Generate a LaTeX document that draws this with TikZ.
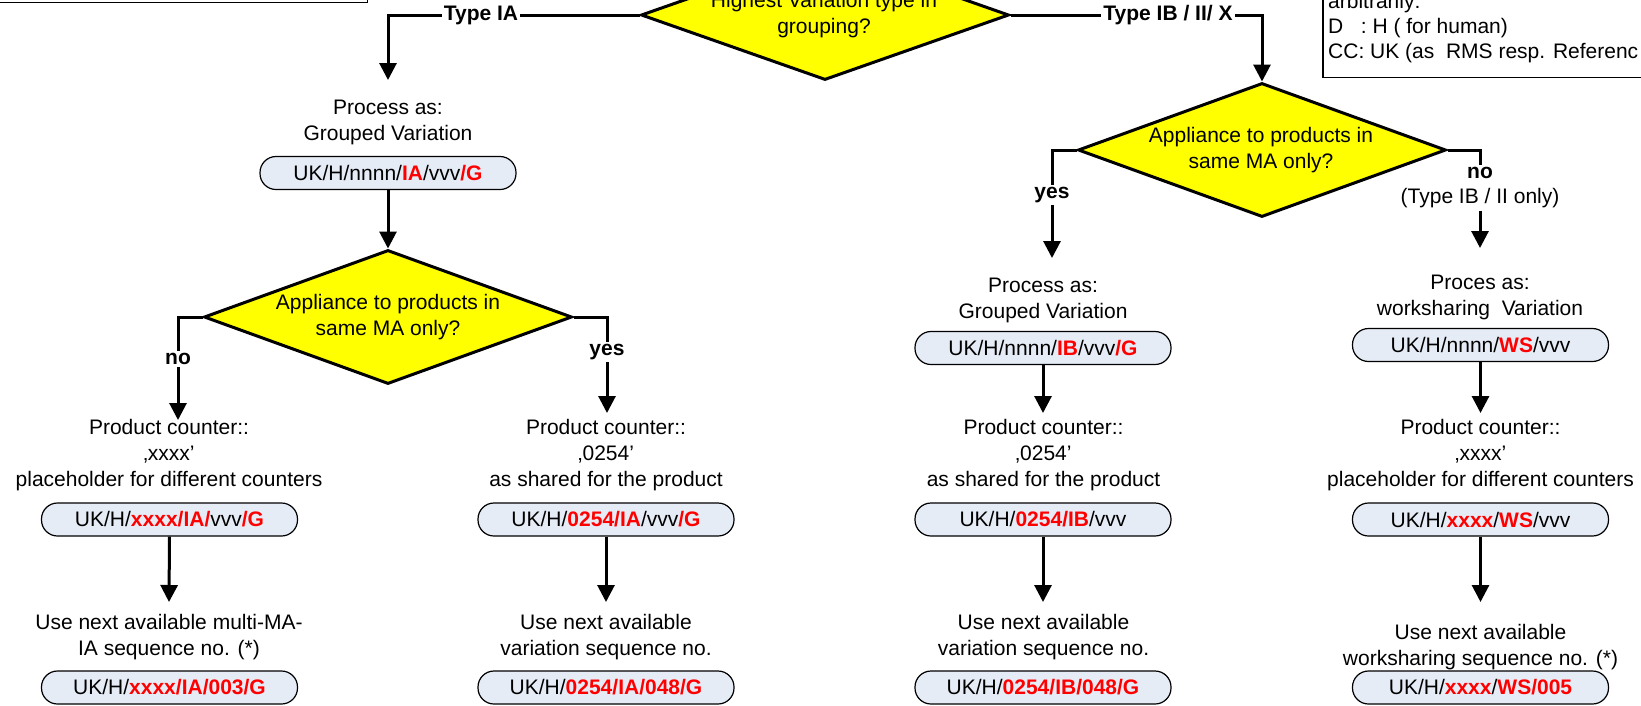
\documentclass[tikz,border=0pt]{standalone}
\usepackage{fontspec}
\setmainfont{Liberation Sans}
\usetikzlibrary{arrows.meta,shapes.geometric}
\definecolor{ovalfill}{RGB}{230,236,246}
\definecolor{dyellow}{RGB}{255,255,0}
\definecolor{rred}{RGB}{255,0,0}
\newcommand{\rb}[1]{\textcolor{rred}{\bfseries #1}}
\begin{document}
\begin{tikzpicture}[x=1pt,y=-1pt,
  txt/.style={font=\fontsize{21}{26}\selectfont, align=center, inner sep=0pt},
  lbl/.style={font=\fontsize{21}{26}\selectfont\bfseries, fill=white, inner sep=2pt, align=center},
  oval/.style={draw=black, line width=1.2pt, fill=ovalfill, rounded corners=16pt, minimum width=256pt, minimum height=33pt, inner sep=0pt, font=\fontsize{21}{26}\selectfont},
  dec/.style={diamond, draw=black, line width=3pt, fill=dyellow, minimum width=368pt, minimum height=134pt, inner sep=0pt},
  wire/.style={line width=3pt},
  conn/.style={wire, -{Triangle[width=17pt,length=17pt]}},
  legbox/.style={draw=black, line width=1.5pt, minimum width=400pt, minimum height=120pt, inner sep=0pt}
]
\useasboundingbox (0,0) rectangle (1641,705);
\clip (0,0) rectangle (1641,705);

% legend boxes (clipped)
\node[legbox, anchor=south east] (boxL) at (368,3) {};
\node[legbox, anchor=south west] (boxR) at (1322,78) {};
\node[txt, align=left, anchor=west, font=\fontsize{21}{25}\selectfont] (legt) at (1328,28)
  {arbitrarily:\\D\ \ \ : H ( for human)\\CC: UK (as\ \ RMS resp. Referenc};

% diamonds
\node[dec, minimum height=130pt] (d0) at (825,15) {};
\node[txt] (d0t) at (824,15) {Highest Variation type in\\grouping?};
\node[dec] (d1) at (388,317) {};
\node[txt] (d1t) at (388,317) {Appliance to products in\\same MA only?};
\node[dec] (d2) at (1262,150) {};
\node[txt] (d2t) at (1261,150) {Appliance to products in\\same MA only?};

% texts
\node[txt] (p1) at (388,122) {Process as:\\Grouped Variation};
\node[txt] (p3) at (1043,300.5) {Process as:\\Grouped Variation};
\node[txt] (p4) at (1480,297) {Proces as:\\worksharing\ \ Variation};
\node[txt] (c1) at (169,455) {Product counter::\\‚xxxx’\\placeholder for different counters};
\node[txt] (c2) at (606,455) {Product counter::\\‚0254’\\as shared for the product};
\node[txt] (c3) at (1043.5,455) {Product counter::\\‚0254’\\as shared for the product};
\node[txt] (c4) at (1480.5,455) {Product counter::\\‚xxxx’\\placeholder for different counters};
\node[txt] (u1) at (169,637) {Use next available multi-MA-\\IA sequence no. (*)};
\node[txt] (u2) at (606,637) {Use next available\\variation sequence no.};
\node[txt] (u3) at (1043.5,637) {Use next available\\variation sequence no.};

% ovals
\node[oval] (o1) at (388,173) {UK/H/nnnn/\rb{IA}/vvv\rb{/G}};
\node[oval] (o1b) at (169.5,519.5) {UK/H/\rb{xxxx/IA/}vvv\rb{/G}};
\node[oval] (o1c) at (169.5,687.5) {UK/H/\rb{xxxx/IA/003/G}};
\node[oval] (o2b) at (606,519.5) {UK/H/\rb{0254/IA}/vvv\rb{/G}};
\node[oval] (o2c) at (606,687.5) {UK/H/\rb{0254/IA/048/G}};
\node[oval] (o3a) at (1043,348) {UK/H/nnnn/\rb{IB}/vvv\rb{/G}};
\node[oval] (o3b) at (1043,519.5) {UK/H/\rb{0254/IB}/vvv};
\node[oval] (o3c) at (1043,687.5) {UK/H/\rb{0254/IB/048/G}};
\node[oval] (o4a) at (1480.5,345) {UK/H/nnnn/\rb{WS}/vvv};
\node[oval] (o4b) at (1480.5,519.5) {UK/H/\rb{xxxx}/\rb{WS}/vvv};
\node[oval] (o4c) at (1480.5,687.5) {UK/H/\rb{xxxx}/\rb{WS/005}};
\node[txt] (u4) at (1480.5,647) {Use next available\\worksharing sequence no. (*)};

% arrow end points
\coordinate (tA) at (388,80);
\coordinate (tNo1) at (178,420);
\coordinate (tYes1) at (607,413);
\coordinate (tYes2) at (1052,258);
\coordinate (tNo2) at (1480,248);
\coordinate (t1b) at (169,602);
\coordinate (t2b) at (606,602);
\coordinate (t3a) at (1043,413);
\coordinate (t3b) at (1043,602);
\coordinate (t4a) at (1480.5,413);
\coordinate (t4b) at (1480.5,602);

% label of the right "no" branch (line broken around it)
\node[font=\fontsize{21}{25}\selectfont, align=center, inner sep=2pt] (lNo2) at (1480,188) {\textbf{no}\\(Type IB / II only)};

% connectors
\draw[conn] (d0.west) -| (tA);
\draw[conn] (d0.east) -| (d2.north);
\draw[conn] (o1.south) -- (d1.north);
\draw[conn] (d1.west) -| (tNo1);
\draw[conn] (d1.east) -| (tYes1);
\draw[conn] (d2.west) -| (tYes2);
\draw[wire] (d2.east) -| (lNo2.north);
\draw[conn] (lNo2.south) -- (tNo2);
\draw[conn] (o1b.south) -- (t1b);
\draw[conn] (o2b.south) -- (t2b);
\draw[conn] (o3a.south) -- (t3a);
\draw[conn] (o3b.south) -- (t3b);
\draw[conn] (o4a.south) -- (t4a);
\draw[conn] (o4b.south) -- (t4b);

% edge labels
\node[lbl] (lA) at (481,15) {Type IA};
\node[lbl] (lB) at (1168,15) {Type IB / II/ X};
\node[lbl] (lNo1) at (178,359) {no};
\node[lbl] (lYes1) at (607,352) {yes};
\node[lbl] (lYes2) at (1052,195) {yes};
\end{tikzpicture}
\end{document}
